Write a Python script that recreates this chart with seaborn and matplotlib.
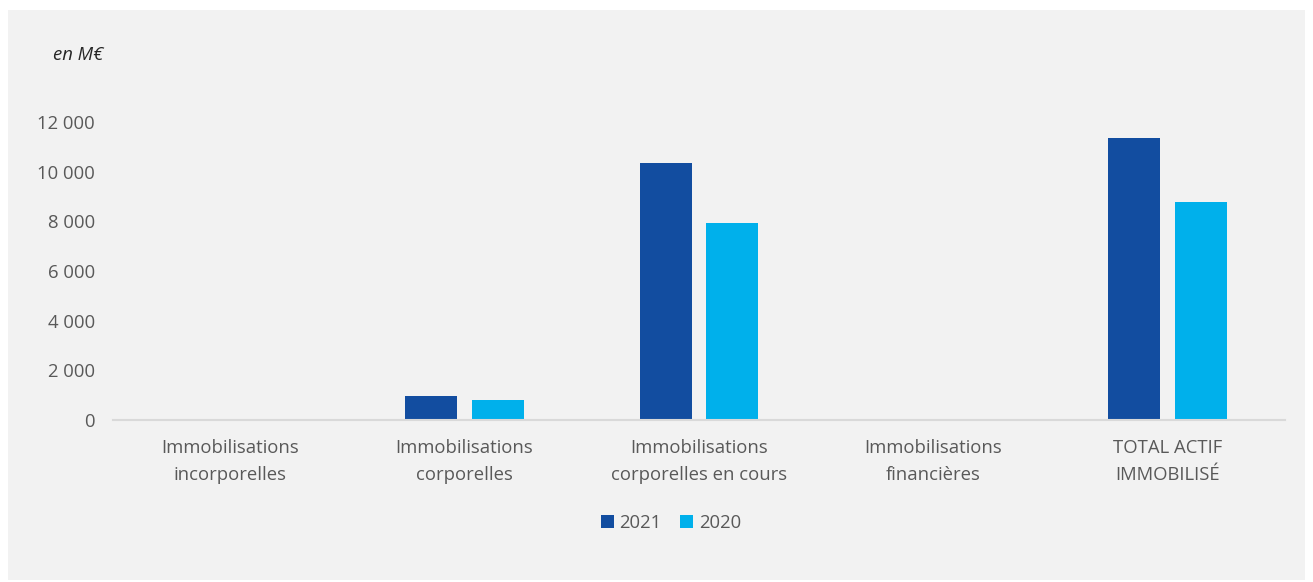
# Libraries
import pandas as pd
import seaborn as sns
import matplotlib.pyplot as plt
from matplotlib.patches import Rectangle

# -----------------------------------
# Data
# -----------------------------------
categories = ["Immobilisations\nincorporelles",
              "Immobilisations\ncorporelles",
              "Immobilisations\ncorporelles en cours",
              "Immobilisations\nfinancières",
              "TOTAL ACTIF\nIMMOBILISÉ"]
values_2021 = [40, 950, 10350, 5, 11345]
values_2020 = [30, 825, 7935, 0, 8790]
years = ["2021", "2020"]
yticks = [0, 2000, 4000, 6000, 8000, 10000, 12000]

# -----------------------------------
# Configuration
# -----------------------------------
sns.set_theme(style="white")
plt.rcParams['font.family'] = ['Open Sans', 'DejaVu Sans']
text_grey = "#595959"
palette = {"2021": "#124da0", "2020": "#00b0eb"}
fs = 13.3

# Tidy frame
df = pd.DataFrame({
    "categorie": categories * 2,
    "annee": [years[0]] * len(categories) + [years[1]] * len(categories),
    "valeur": values_2021 + values_2020,
})

# -----------------------------------
# Plot
# -----------------------------------
fig = plt.figure(figsize=(13.13, 5.82), dpi=100, facecolor="white")
fig.patches.append(Rectangle((8 / 1313, 2 / 582), 1297 / 1313, 570 / 582,
                             transform=fig.transFigure, facecolor="#f2f2f2",
                             edgecolor="none", zorder=-1))
ax = fig.add_axes([113 / 1313, 162 / 582, 1172 / 1313, 298 / 582])
ax.set_facecolor("none")

sns.barplot(data=df, x="categorie", y="valeur", hue="annee",
            palette=palette, width=0.57, gap=0.22, ax=ax,
            saturation=1, linewidth=0, legend=True)

# Format
ax.set_xlim(-0.5, 4.5)
ax.set_ylim(0, 12000)
ax.set_yticks(yticks)
ax.set_yticklabels([f"{v:,}".replace(",", " ") for v in yticks])
ax.tick_params(axis="y", length=0, pad=13, labelsize=fs, labelcolor=text_grey)
ax.tick_params(axis="x", length=0, pad=14, labelsize=fs, labelcolor=text_grey)
for lbl in ax.get_xticklabels():
    lbl.set_linespacing(1.6)
ax.set_xlabel("")
ax.set_ylabel("")
for s in ["left", "top", "right"]:
    ax.spines[s].set_visible(False)
ax.spines["bottom"].set_color("#d9d9d9")
ax.spines["bottom"].set_linewidth(1.5)

# Legend
leg = ax.legend(loc="center", bbox_to_anchor=(671 / 1313, 1 - 523 / 582),
                bbox_transform=fig.transFigure, ncol=2,
                frameon=False, fontsize=fs, handlelength=0.7,
                handleheight=0.7, handletextpad=0.3, columnspacing=1.0)
for t in leg.get_texts():
    t.set_color(text_grey)

# Unit
fig.text(53 / 1313, 1 - 55 / 582, "en M€", fontsize=fs, style="italic",
         color="#262626", va="center", ha="left")

fig.savefig("out.png", dpi=100, facecolor="white")
